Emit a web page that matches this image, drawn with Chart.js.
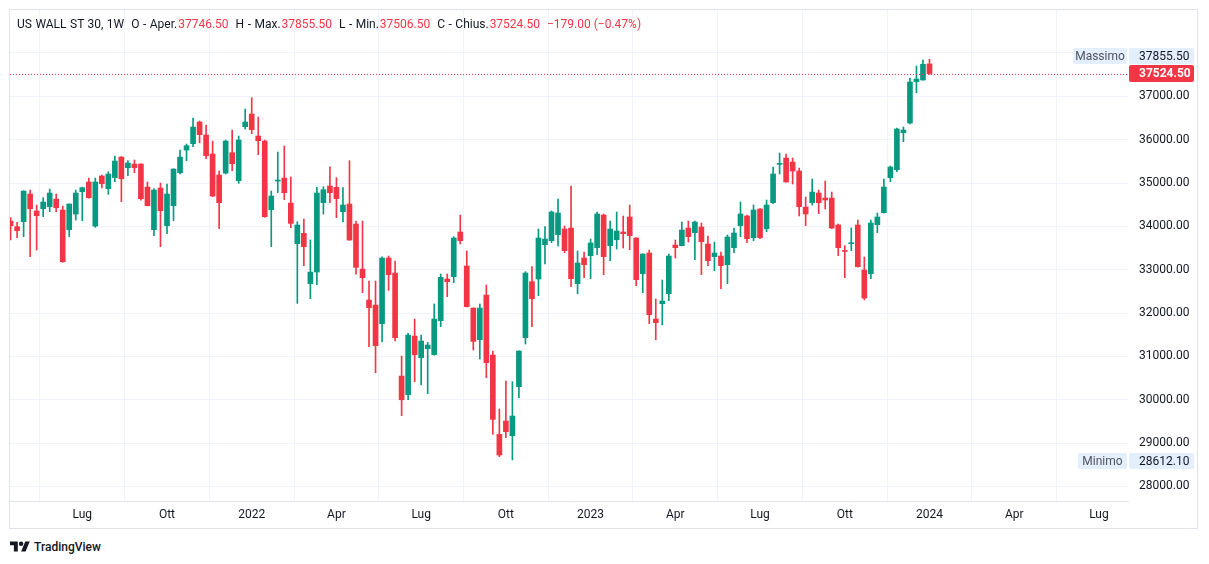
<!DOCTYPE html>
<html><head><meta charset="utf-8">
<script src="https://cdn.jsdelivr.net/npm/chart.js@4.4.0/dist/chart.umd.min.js"></script>
<style>
html,body{margin:0;padding:0;background:#fff;width:1209px;height:564px;overflow:hidden;font-family:Roboto,"Noto Sans",sans-serif;color:#131722}
#frame{position:absolute;left:9px;top:9px;width:1187px;height:518px;border:1px solid #e0e3eb}
#c{position:absolute;left:0;top:0}
#hdr{position:absolute;left:17px;top:17px;display:flex;gap:7px;font-size:12px;line-height:14px;white-space:nowrap;color:#131722;word-spacing:0.5px}
#hdr .v{color:#f23645;margin-left:1px;word-spacing:0}
.r{color:#f23645}
#logo{position:absolute;left:10px;top:539px;height:16px;display:flex;align-items:center}
#logo span{font-size:12px;font-weight:500;margin-left:4px;color:#131722}
</style></head>
<body>
<div id="frame"><canvas id="c" width="1187" height="518"></canvas></div>
<div id="hdr">
<span>US WALL ST 30, 1W</span>
<span>O - Aper.<span class="v">37746.50</span></span>
<span>H - Max.<span class="v">37855.50</span></span>
<span>L - Min.<span class="v">37506.50</span></span>
<span>C - Chius.<span class="v">37524.50</span></span>
<span class="r" style="word-spacing:0">−179.00 (−0.47%)</span>
</div>
<div id="logo"><svg width="20" height="16" viewBox="0 0 36 28"><path fill="#131722" d="M14 22H7V11H0V4h14v18zM28 22h-8l7.5-18h8L28 22z"/><circle cx="20" cy="8" r="4" fill="#131722"/></svg><span>TradingView</span></div>
<script>
const startWeek = '2021-04-19';
const opens = [34123,33992,34108,34746,34354,34407,34453,34630,34377,33923,34284,34800,35023,34007,35161,34869,35123,35599,35353,35438,
35438,34907,33923,34884,34015,34477,35238,35761,35907,36407,36107,35669,35184,35230,35699,35053,36299,36591,36084,35968,
34384,35046,35115,34538,33600,33838,32677,32946,34546,34930,34900,34338,34515,34054,33016,32301,32185,31755,33269,32923,
30547,30117,31470,30971,31178,31040,31824,32786,32839,33870,33085,32116,31386,32416,31032,29202,29510,29171,30302,31432,
32724,32786,33577,33670,33808,33939,33962,32678,33270,33324,33508,34262,33554,33693,33870,34216,33731,32908,33385,31863,
32216,32447,33570,33554,33962,33854,33985,33593,33301,33316,33116,33508,34016,34239,33739,34400,33946,34546,35431,35577,
35484,35277,34446,34546,34769,34654,34654,34031,33439,33600,34031,32993,32908,34039,34315,35123,35307,36161,36384,37337,
37376,37746.5];
const highs = [34200,34092,34820,34838,34492,34661,34861,34746,34469,34520,34838,34907,35115,35115,35184,35261,35622,35610,35515,35530,
35440,35023,34869,34999,34976,35330,35761,35899,36499,36430,36338,35968,35276,35991,36222,36084,36707,36968,36522,35991,
34815,35715,35853,35138,34108,34169,33685,34900,34915,35376,35123,34892,35515,34123,34123,32739,32739,33300,33315,33200,
31008,31531,31862,31493,31324,32209,32901,32901,33762,34262,33431,32120,32209,32647,31124,29786,30432,30417,31130,32955,
33070,33939,33993,34354,34631,34008,34931,33431,33408,33708,34331,34285,34123,34331,34239,34493,33740,33370,33454,32324,
32762,33362,33685,34100,34123,34123,34077,33777,33639,33408,33800,33962,34562,34262,34493,34410,34608,35369,35692,35669,
35577,35346,34677,35092,34838,35046,34792,34054,33554,33962,34146,33293,34146,34308,35092,35392,36269,36292,37422,37699,
37837,37855.5];
const lows = [33685,33738,33761,33300,33454,34223,34338,34338,33170,33761,34146,34131,34650,33977,34884,34738,35030,34569,35169,35238,
34607,34470,33784,33531,33831,34131,35207,35515,35838,35930,35561,34684,33946,35207,35284,34992,36245,36138,35653,34210,
33531,34776,34615,33969,32223,33092,32331,32654,34284,34546,34200,34100,33680,32900,32470,31224,30624,31332,32523,31355,
29632,30000,30417,30340,30140,31030,31686,32378,32701,33593,32140,31148,30940,30509,29202,28687,29125,28612.1,30048,31286,
31686,32401,33131,33624,33547,33393,32609,32447,32816,32793,33347,32885,33208,33477,33500,33462,32632,32470,31755,31386,
31724,32286,33270,33550,33639,33231,32885,33093,32978,32562,32678,33393,33762,33624,33670,33716,33877,34523,35208,35020,
34977,34239,34016,34492,34293,34400,33946,33324,32816,33439,33060,32304,32793,33854,34310,35030,35261,35953,36361,37084,
37370,37506.5];
const closes = [34015,33900,34815,34407,34246,34561,34769,34430,33185,34515,34769,34892,34661,35023,34984,35207,35507,35099,35461,35353,
34638,34477,34838,34361,34746,35322,35599,35861,36291,36115,35630,34700,34546,35968,35446,35991,36407,36230,35976,34223,
34700,35061,34776,34069,34030,33531,32946,34769,34846,34776,34640,34492,33685,33054,32816,32124,31247,33269,32885,31431,
30000,31493,31039,31355,31263,31862,32824,32724,33731,33670,32147,31347,32116,30855,29548,28725,29263,29625,31124,32924,
32332,33731,33708,34331,34308,33439,32793,33155,33116,33616,34285,33301,33939,33893,33831,33785,32770,33362,31962,31778,
32278,33316,33508,33916,33762,34100,33647,33208,33385,33093,33754,33847,34285,33716,34377,33739,34492,35208,35446,35023,
35277,34454,34285,34792,34546,34608,33962,33508,33423,33616,33070,32346,34077,34216,34907,35369,36245,36222,37330,37399,
37740,37524.5];
const tickDates = ['2021-07-05','2021-10-04','2022-01-03','2022-04-04','2022-07-04','2022-10-03','2023-01-02','2023-04-03','2023-07-03','2023-10-02','2024-01-01','2024-04-01','2024-07-01'];
const tickLabels = ['Lug','Ott','2022','Apr','Lug','Ott','2023','Apr','Lug','Ott','2024','Apr','Lug'];
const priceTicks = [28000,29000,30000,31000,32000,33000,34000,35000,36000,37000,38000];
const highLabel = ['Massimo', 37855.5];
const lowLabel = ['Minimo', 28612.1];

const UP='#089981', DN='#f23645';
const t0 = Date.parse(startWeek+'T00:00:00Z');
const wk = d => Math.round((Date.parse(d+'T00:00:00Z')-t0)/(7*864e5));
const tickIdx = tickDates.map(wk);
const cols = closes.map((c,i)=> c>=opens[i] ? UP : DN);
const wickData = opens.map((o,i)=>({x:i,y:[lows[i],highs[i]]}));
const bodyData = opens.map((o,i)=>({x:i,y:[Math.min(o,closes[i]),Math.max(o,closes[i])]}));
const lastClose = closes[closes.length-1];

function box(ctx,x,y,w,h,bg){ctx.fillStyle=bg;ctx.beginPath();if(ctx.roundRect)ctx.roundRect(x,y,w,h,2);else ctx.rect(x,y,w,h);ctx.fill();}

const overlay = {
  id:'overlay',
  afterDatasetsDraw(chart){
    const {ctx,chartArea:a,scales:{y}} = chart;
    const py = Math.round(y.getPixelForValue(lastClose))+0.5;
    ctx.save();ctx.strokeStyle=DN;ctx.lineWidth=1;ctx.setLineDash([1,2]);
    ctx.beginPath();ctx.moveTo(a.left,py);ctx.lineTo(a.right,py);ctx.stroke();ctx.restore();
  },
  afterDraw(chart){
    const {ctx,chartArea:a,scales:{y}} = chart;
    ctx.save();
    ctx.font='12px Roboto';ctx.textBaseline='middle';
    const yc = y.getPixelForValue(lastClose);
    const redTop = Math.round(yc-8.5);
    let yh = y.getPixelForValue(highLabel[1]);
    let hTop = Math.min(Math.round(yh-8), redTop-17);
    box(ctx,a.right+1,hTop,65,16,'#e3effd');
    box(ctx,a.right-55,hTop,54,16,'#e3effd');
    ctx.fillStyle='#131722';ctx.textAlign='left';
    ctx.fillText(highLabel[1].toFixed(2),a.right+11,hTop+8.5);
    ctx.fillStyle='#50535e';ctx.textAlign='center';
    ctx.fillText(highLabel[0],a.right-28,hTop+8.5);
    box(ctx,a.right+1,redTop,65,17,DN);
    ctx.fillStyle='#fff';ctx.textAlign='left';ctx.font='bold 12px Roboto';
    ctx.fillText(lastClose.toFixed(2),a.right+11,redTop+9);
    ctx.font='12px Roboto';
    const yl = y.getPixelForValue(lowLabel[1]);
    const lTop = Math.round(yl-7);
    box(ctx,a.right+1,lTop,65,16,'#e3effd');
    box(ctx,a.right-50,lTop,49,16,'#e3effd');
    ctx.fillStyle='#131722';ctx.textAlign='left';
    ctx.fillText(lowLabel[1].toFixed(2),a.right+11,lTop+8.5);
    ctx.fillStyle='#50535e';ctx.textAlign='center';
    ctx.fillText(lowLabel[0],a.right-25.5,lTop+8.5);
    ctx.restore();
  }
};

new Chart(document.getElementById('c'),{
  type:'bar',
  data:{datasets:[
    {data:wickData,backgroundColor:cols,barThickness:1,grouped:false,borderWidth:0},
    {data:bodyData,backgroundColor:cols,barThickness:5,grouped:false,borderWidth:0,minBarLength:1}
  ]},
  options:{
    responsive:false,animation:false,devicePixelRatio:1,
    layout:{padding:0},
    plugins:{legend:{display:false},tooltip:{enabled:false}},
    scales:{
      x:{type:'linear',min:-0.09,max:171.46,offset:false,
        grid:{color:'#f0f3fa',drawTicks:false},
        border:{display:true,color:'#e0e3eb'},
        ticks:{autoSkip:false,maxRotation:0,padding:7,color:'#131722',font:{family:'Roboto',size:12},
          callback:(v,i)=>tickLabels[i]},
        afterBuildTicks(s){s.ticks=tickIdx.map(v=>({value:v}));},
        afterFit(s){s.height=27;s.paddingLeft=0;s.paddingRight=0;}
      },
      y:{position:'right',min:27665,max:38991,
        grid:{color:'#f0f3fa',drawTicks:false},
        border:{display:false},
        ticks:{padding:11,color:'#131722',font:{family:'Roboto',size:12},
          callback:(v)=> v===38000?'':Number(v).toFixed(2)},
        afterBuildTicks(s){s.ticks=priceTicks.map(v=>({value:v}));},
        afterFit(s){s.width=69;s.paddingTop=0;s.paddingBottom=0;}
      }
    }
  },
  plugins:[overlay]
});
</script>
</body></html>
